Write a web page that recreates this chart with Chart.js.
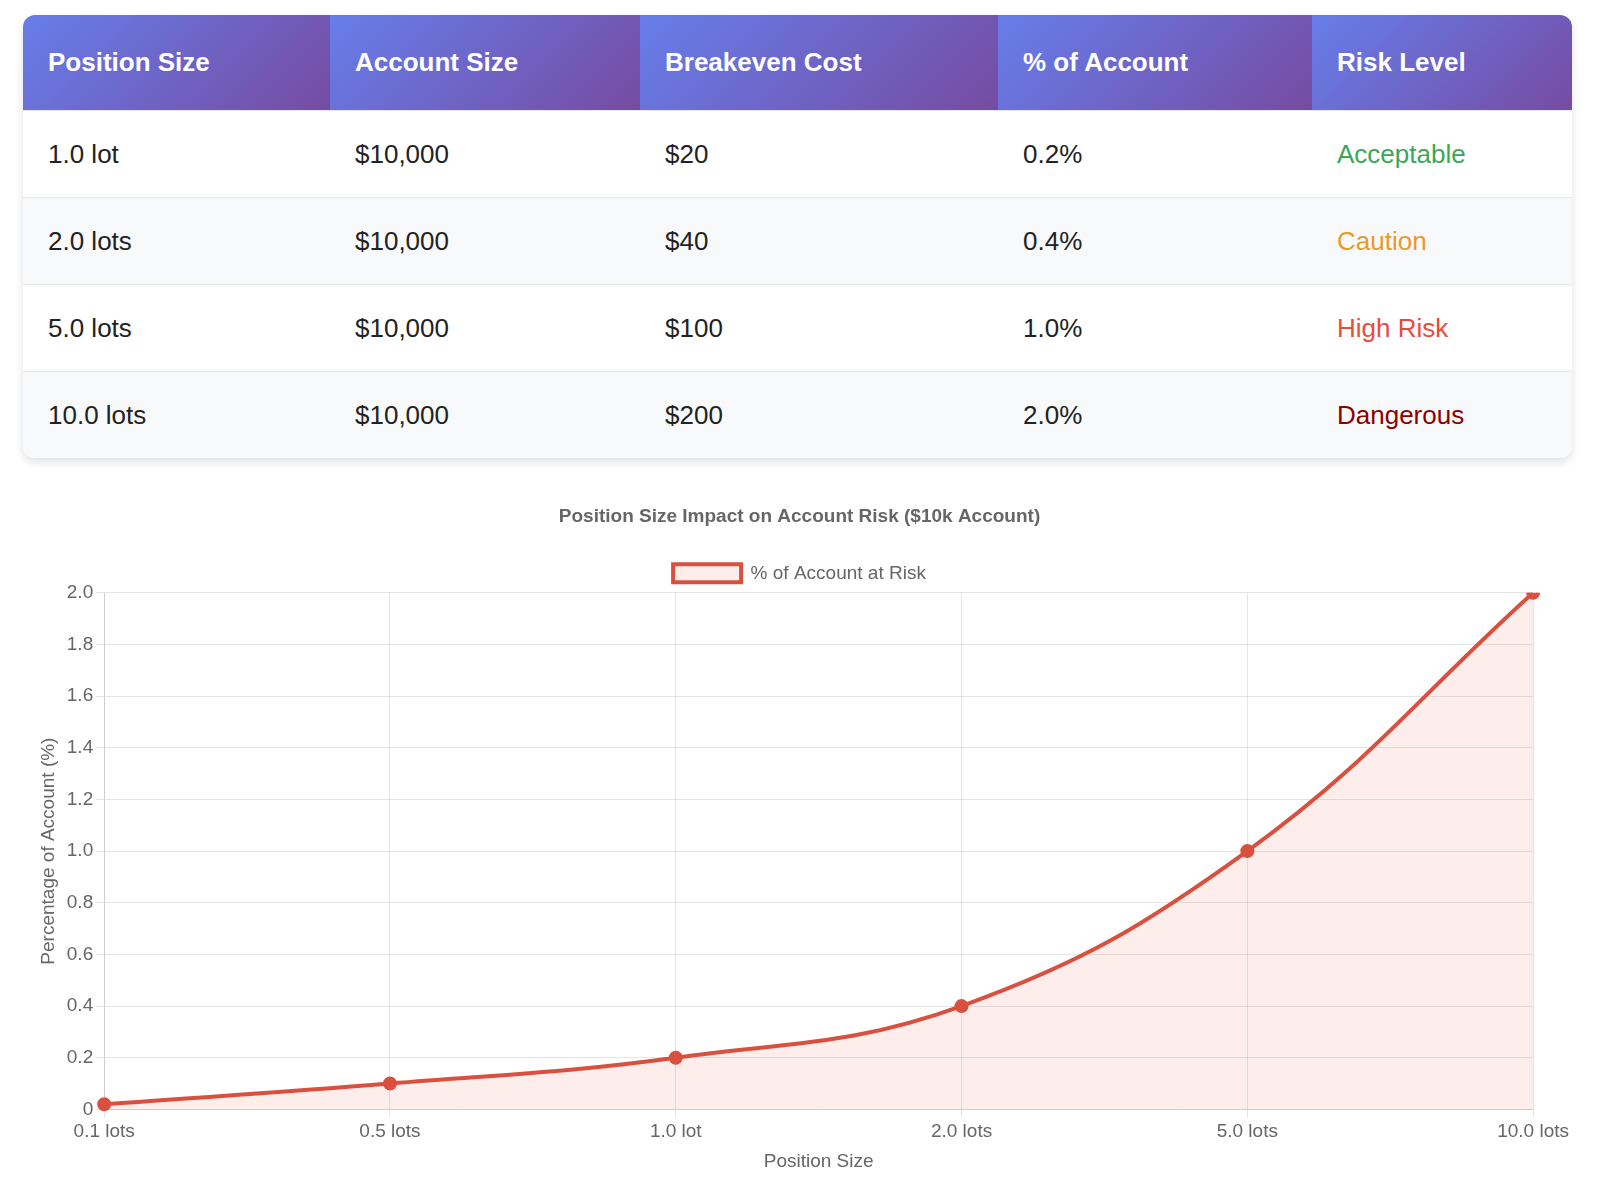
<!DOCTYPE html>
<html>
<head>
<meta charset="utf-8">
<script src="https://cdn.jsdelivr.net/npm/chart.js@4"></script>
<style>
  body { margin: 0; background: #fff; font-family: "Liberation Sans", Arial, sans-serif; }
  .wrap { position: absolute; left: 23px; top: 15px; width: 1549px; }
  table { width: 100%; border-collapse: collapse; border-radius: 12px; overflow: hidden;
          box-shadow: 0 4px 10px rgba(0,0,0,0.12); font-size: 26px; }
  th { background: linear-gradient(135deg, #667eea, #764ba2); color: #fff; text-align: left;
       font-weight: bold; height: 95px; padding: 0 25px; }
  td { height: 86px; padding: 0 25px; color: #222; border-top: 1px solid #e8e8e8; }
  tr:nth-child(even) td { background: #f8f9fa; }
  .chart { position: absolute; left: 23px; top: 505px; width: 1549px; height: 672px; }
</style>
</head>
<body>
<div class="wrap">
<table>
  <thead><tr>
    <th style="width:257px">Position Size</th><th style="width:260px">Account Size</th>
    <th style="width:308px">Breakeven Cost</th><th style="width:264px">% of Account</th><th>Risk Level</th>
  </tr></thead>
  <tbody id="rows"></tbody>
</table>
</div>
<div class="chart"><canvas id="riskChart"></canvas></div>
<script>
const tableSizes = ['1.0 lot', '2.0 lots', '5.0 lots', '10.0 lots'];
const tableAccount = ['$10,000', '$10,000', '$10,000', '$10,000'];
const tableCost = ['$20', '$40', '$100', '$200'];
const tablePct = ['0.2%', '0.4%', '1.0%', '2.0%'];
const tableRisk = ['Acceptable', 'Caution', 'High Risk', 'Dangerous'];
const riskColors = ['#3aa757', '#e89a2c', '#e74c3c', '#8b0000'];

const labels = ['0.1 lots', '0.5 lots', '1.0 lot', '2.0 lots', '5.0 lots', '10.0 lots'];
const pctAtRisk = [0.02, 0.1, 0.2, 0.4, 1.0, 2.0];

const tbody = document.getElementById('rows');
tableSizes.forEach((s, i) => {
  const tr = document.createElement('tr');
  tr.innerHTML = '<td>' + s + '</td><td>' + tableAccount[i] + '</td><td>' + tableCost[i] +
    '</td><td>' + tablePct[i] + '</td><td style="color:' + riskColors[i] + '">' + tableRisk[i] + '</td>';
  tbody.appendChild(tr);
});

const ctx = document.getElementById('riskChart');
new Chart(ctx, {
  type: 'line',
  data: {
    labels: labels,
    datasets: [{
      label: '% of Account at Risk',
      data: pctAtRisk,
      borderColor: '#d9503f',
      backgroundColor: 'rgba(231, 76, 60, 0.1)',
      borderWidth: 4,
      pointRadius: 5,
      pointBackgroundColor: '#d9503f',
      fill: true,
      tension: 0.4
    }]
  },
  options: {
    responsive: true,
    maintainAspectRatio: false,
    animation: false,
    layout: { padding: { left: 10, right: 6 } },
    plugins: {
      title: { display: true, text: 'Position Size Impact on Account Risk ($10k Account)',
               color: '#666', font: { size: 19, weight: 'bold' }, padding: { top: 0, bottom: 26 } },
      legend: { labels: { color: '#666', font: { size: 19 }, boxWidth: 68, boxHeight: 18 } }
    },
    scales: {
      x: { title: { display: true, text: 'Position Size', color: '#666', font: { size: 19 } },
           ticks: { color: '#666', font: { size: 19 } } },
      y: { beginAtZero: true, max: 2.0,
           title: { display: true, text: 'Percentage of Account (%)', color: '#666', font: { size: 19 } },
           ticks: { color: '#666', font: { size: 19 }, stepSize: 0.2,
                    callback: v => v === 0 ? '0' : v.toFixed(1) } }
    }
  }
});
</script>
</body>
</html>
